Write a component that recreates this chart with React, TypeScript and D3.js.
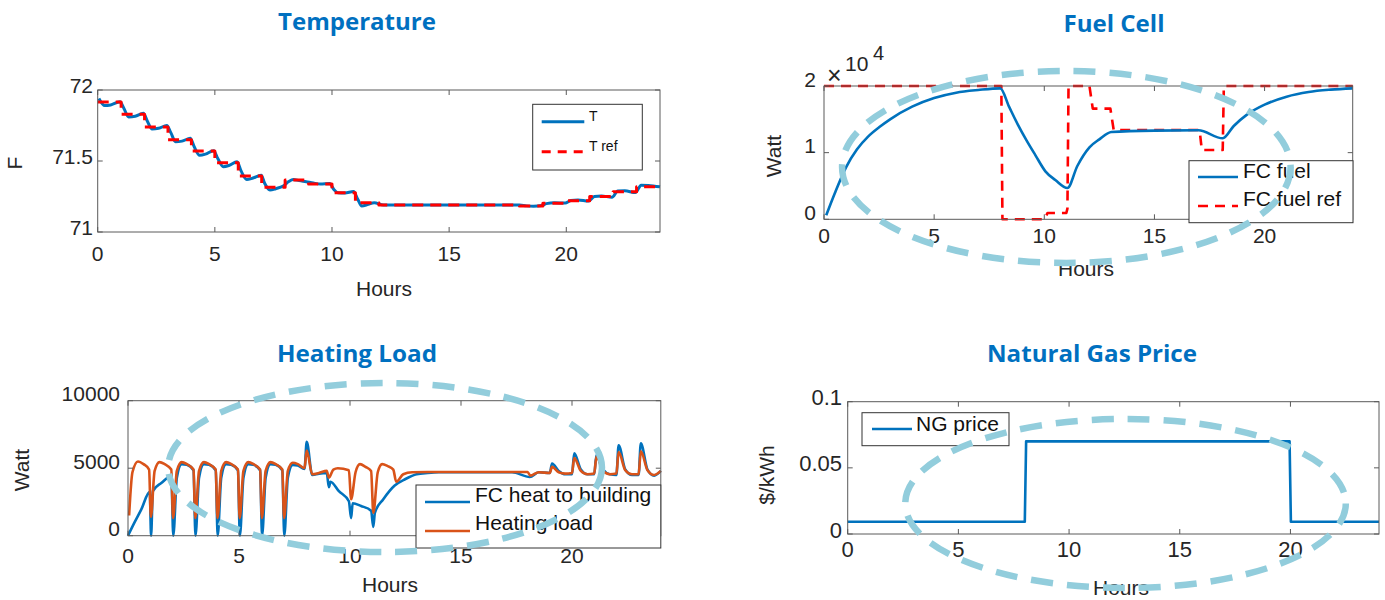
import React from 'react';
import * as d3 from 'd3';

// ---------------- DATA ----------------
const HOUR_TICKS = [0, 5, 10, 15, 20];

// Temperature
const T_HOURS = [0.05, 0.3, 0.55, 0.95, 1.12, 1.32, 1.6, 1.95, 2.12, 2.32, 2.6, 2.95, 3.12, 3.32, 3.6, 3.95, 4.12, 4.35, 4.6, 4.95, 5.12, 5.36, 5.6, 5.95, 6.12, 6.36, 6.6, 6.98, 7.12, 7.35, 7.6, 7.92, 8.15, 8.35, 8.6, 8.9, 9.2, 9.5, 9.9, 10.08, 10.25, 10.55, 10.92, 11.1, 11.27, 11.55, 11.8, 12.2, 13, 14, 15, 16, 17, 18, 18.3, 18.6, 18.95, 19.15, 19.5, 19.95, 20.2, 20.5, 20.95, 21.2, 21.5, 21.95, 22.2, 22.5, 22.95, 23.2, 23.5, 24];
const T_VALUES = [71.94, 71.89, 71.895, 71.918, 71.87, 71.81, 71.815, 71.836, 71.78, 71.725, 71.73, 71.75, 71.7, 71.636, 71.64, 71.66, 71.6, 71.54, 71.548, 71.573, 71.52, 71.46, 71.468, 71.495, 71.43, 71.37, 71.378, 71.4, 71.345, 71.296, 71.305, 71.324, 71.355, 71.37, 71.362, 71.354, 71.345, 71.338, 71.342, 71.3, 71.277, 71.275, 71.285, 71.23, 71.183, 71.195, 71.206, 71.19, 71.19, 71.19, 71.19, 71.19, 71.19, 71.19, 71.184, 71.182, 71.186, 71.2, 71.206, 71.204, 71.222, 71.226, 71.218, 71.25, 71.254, 71.244, 71.288, 71.29, 71.278, 71.33, 71.328, 71.318];
const TREF_HOURS = [0, 1, 2, 3, 4, 5, 6, 7, 8, 9, 10, 11, 12, 13, 14, 15, 16, 17, 18, 19, 20, 21, 22, 23, 24];
const TREF_VALUES = [71.915, 71.83, 71.74, 71.65, 71.57, 71.488, 71.395, 71.315, 71.366, 71.338, 71.277, 71.206, 71.19, 71.19, 71.19, 71.19, 71.19, 71.19, 71.183, 71.203, 71.22, 71.25, 71.284, 71.318, 71.318];
const T_TICKS = [71, 71.5, 72];

// Fuel cell
const FC_HOURS = [0.1, 0.5, 1.0, 1.5, 2.0, 2.5, 3.0, 4.0, 5.0, 6.0, 7.0, 8.0, 8.4, 8.8, 9.2, 9.6, 10.05, 10.5, 11.05, 11.5, 12.05, 12.5, 13.05, 15.0, 17.0, 18.1, 18.6, 19.2, 20.0, 21.0, 22.0, 23.0, 24.0];
const FC_VALUES = [600, 4000, 7800, 10500, 12400, 13800, 15000, 16900, 18200, 19000, 19400, 19650, 16900, 14200, 11800, 9600, 7200, 5900, 4700, 8000, 10800, 12000, 13100, 13300, 13350, 12150, 14000, 15700, 17200, 18400, 19100, 19450, 19650];
const FCREF_HOURS = [0, 8.05, 8.1, 10.0, 10.15, 11.0, 11.05, 11.1, 12.05, 12.2, 13.0, 13.15, 17.05, 17.15, 18.1, 18.15, 24];
const FCREF_VALUES = [20000, 20000, 0, 0, 950, 950, 1600, 20000, 20000, 16600, 16600, 13400, 13400, 10400, 10400, 20000, 20000];
const FC_TICKS = [0, 10000, 20000];
const FC_TICK_LABELS = ['0', '1', '2'];

// Heating load
const HL_HOURS = [0.05, 0.2, 0.45, 0.7, 0.95, 1.03, 1.2, 1.42, 1.65, 1.95, 2.03, 2.2, 2.42, 2.65, 2.95, 3.03, 3.2, 3.42, 3.65, 3.95, 4.03, 4.2, 4.42, 4.65, 4.95, 5.03, 5.2, 5.42, 5.65, 5.95, 6.03, 6.2, 6.42, 6.65, 6.95, 7.03, 7.2, 7.42, 7.65, 7.95, 8.05, 8.3, 8.6, 8.95, 9.05, 9.25, 9.45, 9.95, 10.05, 10.25, 10.45, 10.7, 10.95, 11.05, 11.25, 11.45, 11.7, 11.95, 12.08, 12.4, 12.8, 13.5, 18.0, 18.12, 18.5, 19.0, 19.1, 19.4, 19.7, 20.0, 20.1, 20.4, 20.7, 21.0, 21.1, 21.4, 21.7, 22.0, 22.1, 22.4, 22.7, 23.0, 23.1, 23.4, 23.7, 24.0];
const HL_VALUES = [1500, 4700, 5500, 5300, 4900, 1400, 4800, 5450, 5300, 4900, 1300, 4800, 5450, 5300, 4900, 1300, 4800, 5450, 5300, 4900, 1300, 4800, 5450, 5300, 4900, 1300, 4800, 5450, 5300, 4900, 1300, 4800, 5450, 5300, 4900, 1300, 4800, 5400, 5300, 5000, 6300, 4550, 4650, 4800, 4300, 4900, 5000, 4850, 2700, 4700, 5300, 5100, 4800, 1700, 4700, 5300, 5150, 4900, 4000, 4550, 4700, 4720, 4720, 4450, 4700, 4650, 5100, 4700, 4600, 4650, 5750, 4800, 4550, 4600, 5850, 4800, 4550, 4600, 6200, 4850, 4550, 4550, 6250, 4850, 4500, 4800];
const FH_HOURS = [0.0, 0.3, 0.6, 0.98, 1.04, 1.12, 1.5, 1.95, 2.04, 2.2, 2.42, 2.65, 2.95, 3.04, 3.2, 3.42, 3.65, 3.95, 4.04, 4.2, 4.42, 4.65, 4.95, 5.04, 5.2, 5.42, 5.65, 5.95, 6.04, 6.2, 6.42, 6.65, 6.95, 7.04, 7.2, 7.42, 7.65, 7.95, 8.05, 8.3, 8.6, 8.95, 9.05, 9.12, 9.5, 9.95, 10.05, 10.12, 10.5, 10.95, 11.05, 11.12, 11.5, 12.0, 12.5, 13.0, 13.5, 14.0, 17.3, 18.1, 18.5, 19.0, 19.1, 19.4, 19.7, 20.0, 20.1, 20.4, 20.7, 21.0, 21.1, 21.4, 21.7, 22.0, 22.1, 22.4, 22.7, 23.0, 23.1, 23.4, 23.7, 24.0];
const FH_VALUES = [0, 1000, 1950, 3250, 0, 3300, 3900, 4400, 0, 4300, 5300, 5250, 4850, 0, 4300, 5300, 5250, 4850, 0, 4300, 5300, 5250, 4850, 0, 4300, 5300, 5250, 4850, 0, 4300, 5300, 5250, 4850, 0, 4300, 5250, 5200, 4950, 6950, 4500, 4600, 4650, 3600, 4000, 3300, 2550, 1300, 2400, 2200, 1850, 650, 1700, 2700, 3700, 4200, 4550, 4650, 4700, 4700, 4350, 4700, 4650, 5350, 4800, 4550, 4550, 6100, 4900, 4550, 4550, 5980, 4900, 4550, 4500, 6700, 4900, 4500, 4500, 6850, 4900, 4450, 4800];
const HL_TICKS = [0, 5000, 10000];

// Natural gas price
const NG_HOURS = [0, 8.0, 8.06, 19.96, 20.02, 24];
const NG_VALUES = [0.0093, 0.0093, 0.07, 0.07, 0.0093, 0.0093];
const NG_TICKS = [0, 0.05, 0.1];
const NG_TICK_LABELS = ['0', '0.05', '0.1'];

// ---------------- STYLE ----------------
const BLUE = '#0072BD';
const ORANGE = '#D95319';
const RED = '#FF0000';
const TITLE_BLUE = '#0070C0';
const ELLIPSE = '#92CDDC';
const AXIS = '#5a5a5a';
const TEXT = '#262626';
const FONT = '"Liberation Sans", Arial, sans-serif';
const TITLE_FONT = '"Open Sans", "Liberation Sans", sans-serif';

type SeriesDef = { xs: number[]; ys: number[]; color: string; width: number; dash?: string; curve: any };
type LegendDef = { box: [number, number, number, number]; lineX: [number, number]; textX: number; fontSize: number; items: { label: string; y: number; ty: number; color: string; width: number; dash?: string }[] };

type PanelDef = {
  box: { l: number; r: number; t: number; b: number };
  yDomain: [number, number];
  yTicks: number[];
  yLabels: string[];
  yLabelRight: number;
  yLabelDy: number;
  xLabelBaseline: number;
  tickFont: number;
  title: { text: string; x: number; y: number; len: number };
  yTitle: { text: string; x: number; y: number };
  xTitle: { x: number; y: number };
  series: SeriesDef[];
  legend: LegendDef;
  ellipse?: { ct: number; cv: number; rh: number; rv: number };
  extra?: React.ReactNode;
};

function Panel({ p }: { p: PanelDef }) {
  const x = d3.scaleLinear().domain([0, 24]).range([p.box.l, p.box.r]);
  const y = d3.scaleLinear().domain(p.yDomain).range([p.box.b, p.box.t]);
  const tick = 5;
  let ell: React.ReactNode = null;
  if (p.ellipse) {
    const e = p.ellipse;
    const cx = x(e.ct);
    const cy = y(e.cv);
    const rx = x(e.ct + e.rh) - cx;
    const ry = y(e.cv - e.rv) - cy;
    ell = (
      <ellipse cx={cx} cy={cy} rx={rx} ry={ry} fill="none" stroke={ELLIPSE} strokeWidth={6.5} strokeDasharray="22 14" />
    );
  }
  const lg = p.legend;
  return (
    <g>
      <text x={p.title.x} y={p.title.y} textAnchor="middle" fontFamily={TITLE_FONT} fontWeight={700} fontSize={23} fill={TITLE_BLUE} textLength={p.title.len} lengthAdjust="spacingAndGlyphs">{p.title.text}</text>
      {p.series.map((s, i) => {
        const pts: [number, number][] = s.xs.map((h, k) => [h, s.ys[k]]);
        const line = d3.line<[number, number]>().x(d => x(d[0])).y(d => y(d[1])).curve(s.curve);
        return <path key={i} d={line(pts) || ''} fill="none" stroke={s.color} strokeWidth={s.width} strokeDasharray={s.dash} strokeLinejoin="round" />;
      })}
      <rect x={p.box.l} y={p.box.t} width={p.box.r - p.box.l} height={p.box.b - p.box.t} fill="none" stroke={AXIS} strokeWidth={1} />
      {HOUR_TICKS.map(h => (
        <g key={'xt' + h}>
          <line x1={x(h)} x2={x(h)} y1={p.box.b} y2={p.box.b - tick} stroke={AXIS} />
          <line x1={x(h)} x2={x(h)} y1={p.box.t} y2={p.box.t + tick} stroke={AXIS} />
          <text x={x(h)} y={p.xLabelBaseline} textAnchor="middle" fontFamily={FONT} fontSize={p.tickFont} fill={TEXT}>{h}</text>
        </g>
      ))}
      {p.yTicks.map((v, i) => (
        <g key={'yt' + i}>
          <line x1={p.box.l} x2={p.box.l + tick} y1={y(v)} y2={y(v)} stroke={AXIS} />
          <line x1={p.box.r} x2={p.box.r - tick} y1={y(v)} y2={y(v)} stroke={AXIS} />
          <text x={p.yLabelRight} y={y(v) + p.yLabelDy} textAnchor="end" dominantBaseline="central" fontFamily={FONT} fontSize={p.tickFont} fill={TEXT}>{p.yLabels[i]}</text>
        </g>
      ))}
      <text transform={`translate(${p.yTitle.x},${p.yTitle.y}) rotate(-90)`} textAnchor="middle" dominantBaseline="central" fontFamily={FONT} fontSize={21} fill={TEXT}>{p.yTitle.text}</text>
      <text x={p.xTitle.x} y={p.xTitle.y} textAnchor="middle" fontFamily={FONT} fontSize={21} fill={TEXT}>Hours</text>
      {p.extra}
      <rect x={lg.box[0]} y={lg.box[1]} width={lg.box[2] - lg.box[0]} height={lg.box[3] - lg.box[1]} fill="#fff" stroke="#333" strokeWidth={1} />
      {lg.items.map((it, i) => (
        <g key={'lg' + i}>
          <line x1={lg.lineX[0]} x2={lg.lineX[1]} y1={it.y} y2={it.y} stroke={it.color} strokeWidth={it.width} strokeDasharray={it.dash} />
          <text x={lg.textX} y={it.ty} fontFamily={FONT} fontSize={lg.fontSize} fill="#111">{it.label}</text>
        </g>
      ))}
      {ell}
    </g>
  );
}

const panels: PanelDef[] = [
  {
    box: { l: 97.7, r: 660, t: 90, b: 232 },
    yDomain: [71, 72],
    yTicks: T_TICKS,
    yLabels: T_TICKS.map(String),
    yLabelRight: 93,
    yLabelDy: -5,
    xLabelBaseline: 261,
    tickFont: 21,
    title: { text: 'Temperature', x: 357, y: 30, len: 158 },
    yTitle: { text: 'F', x: 14, y: 163 },
    xTitle: { x: 384, y: 296 },
    series: [
      { xs: T_HOURS, ys: T_VALUES, color: BLUE, width: 3, curve: d3.curveMonotoneX },
      { xs: TREF_HOURS, ys: TREF_VALUES, color: RED, width: 3, dash: '11 7', curve: d3.curveStepAfter },
    ],
    legend: {
      box: [532.7, 104.3, 642.3, 170],
      lineX: [541.7, 584.3],
      textX: 589,
      fontSize: 14,
      items: [
        { label: 'T', y: 121.7, ty: 121, color: BLUE, width: 3 },
        { label: 'T ref', y: 151.7, ty: 151, color: RED, width: 3, dash: '9 7' },
      ],
    },
  },
  {
    box: { l: 824, r: 1352.7, t: 86, b: 219.3 },
    yDomain: [0, 20000],
    yTicks: FC_TICKS,
    yLabels: FC_TICK_LABELS,
    yLabelRight: 816,
    yLabelDy: -7,
    xLabelBaseline: 243,
    tickFont: 21,
    title: { text: 'Fuel Cell', x: 1114, y: 32, len: 101 },
    yTitle: { text: 'Watt', x: 773, y: 156 },
    xTitle: { x: 1086, y: 276 },
    series: [
      { xs: FCREF_HOURS, ys: FCREF_VALUES, color: RED, width: 2.6, dash: '10 7', curve: d3.curveLinear },
      { xs: FC_HOURS, ys: FC_VALUES, color: BLUE, width: 2.6, curve: d3.curveMonotoneX },
    ],
    legend: {
      box: [1189, 160.7, 1353, 222.7],
      lineX: [1198, 1238],
      textX: 1243,
      fontSize: 21,
      items: [
        { label: 'FC fuel', y: 177, ty: 178, color: BLUE, width: 2.6 },
        { label: 'FC fuel ref', y: 206, ty: 206, color: RED, width: 2.6, dash: '10 7' },
      ],
    },
    ellipse: { ct: 11.0, cv: 7850, rh: 10.18, rv: 14400 },
    extra: (
      <g fontFamily={FONT} fill={TEXT}>
        <text x={827} y={84} fontSize={25}>×</text>
        <text x={845} y={71} fontSize={21}>10</text>
        <text x={873} y={60} fontSize={20}>4</text>
      </g>
    ),
  },
  {
    box: { l: 128, r: 660.8, t: 400.7, b: 535.7 },
    yDomain: [0, 10000],
    yTicks: HL_TICKS,
    yLabels: HL_TICKS.map(String),
    yLabelRight: 120,
    yLabelDy: -7,
    xLabelBaseline: 563,
    tickFont: 21,
    title: { text: 'Heating Load', x: 357, y: 362, len: 160 },
    yTitle: { text: 'Watt', x: 21, y: 470 },
    xTitle: { x: 390, y: 592 },
    series: [
      { xs: FH_HOURS, ys: FH_VALUES, color: BLUE, width: 2.6, curve: d3.curveMonotoneX },
      { xs: HL_HOURS, ys: HL_VALUES, color: ORANGE, width: 2.6, curve: d3.curveMonotoneX },
    ],
    legend: {
      box: [416, 485, 660.8, 548],
      lineX: [425, 470],
      textX: 475,
      fontSize: 21,
      items: [
        { label: 'FC heat to building', y: 502, ty: 502, color: BLUE, width: 2.6 },
        { label: 'Heating load', y: 531, ty: 530, color: ORANGE, width: 2.6 },
      ],
    },
    ellipse: { ct: 11.58, cv: 5050, rh: 9.77, rv: 6260 },
  },
  {
    box: { l: 847.7, r: 1379, t: 401.7, b: 534 },
    yDomain: [0, 0.1],
    yTicks: NG_TICKS,
    yLabels: NG_TICK_LABELS,
    yLabelRight: 842,
    yLabelDy: -4,
    xLabelBaseline: 557,
    tickFont: 22,
    title: { text: 'Natural Gas Price', x: 1092, y: 362, len: 210 },
    yTitle: { text: '$/kWh', x: 766, y: 475 },
    xTitle: { x: 1121, y: 595 },
    series: [
      { xs: NG_HOURS, ys: NG_VALUES, color: BLUE, width: 2.6, curve: d3.curveLinear },
    ],
    legend: {
      box: [862, 412.7, 1009, 445.7],
      lineX: [872, 912],
      textX: 916,
      fontSize: 21,
      items: [
        { label: 'NG price', y: 429, ty: 431, color: BLUE, width: 2.6 },
      ],
    },
    ellipse: { ct: 12.55, cv: 0.0231, rh: 9.95, rv: 0.0639 },
  },
];

export default function App() {
  return (
    <svg width={1385} height={600} viewBox="0 0 1385 600" style={{ position: 'absolute', left: 0, top: 0, background: '#fff' }}>
      <rect x={0} y={0} width={1385} height={600} fill="#fff" />
      {panels.map((p, i) => <Panel key={i} p={p} />)}
    </svg>
  );
}
